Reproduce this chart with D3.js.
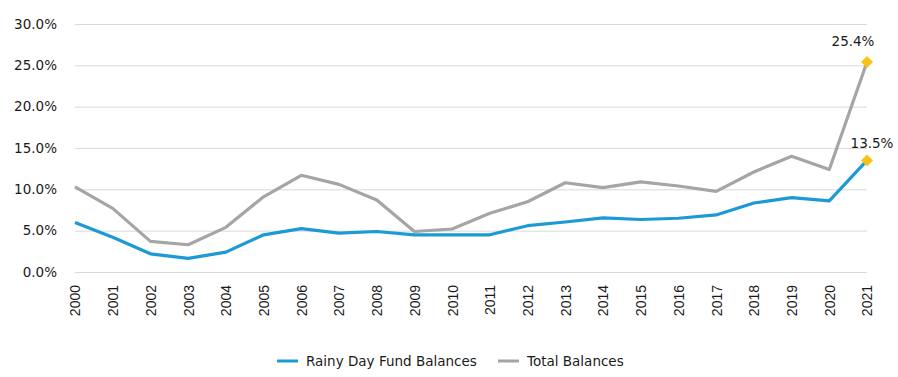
<!DOCTYPE html>
<html>
<head>
<meta charset="utf-8">
<script src="https://cdn.jsdelivr.net/npm/d3@7"></script>
<style>
  body { margin: 0; background: #fff; }
  svg text { fill: #1a1a1a; }
</style>
</head>
<body>
<div id="chart"></div>
<script>
const years = [2000, 2001, 2002, 2003, 2004, 2005, 2006, 2007, 2008, 2009, 2010,
               2011, 2012, 2013, 2014, 2015, 2016, 2017, 2018, 2019, 2020, 2021];
const rainyDay = [6.0, 4.2, 2.2, 1.65, 2.4, 4.5, 5.25, 4.7, 4.9, 4.5, 4.5,
                  4.5, 5.6, 6.05, 6.55, 6.35, 6.5, 6.9, 8.35, 9.0, 8.6, 13.5];
const totalBal = [10.3, 7.7, 3.7, 3.3, 5.4, 9.1, 11.7, 10.6, 8.7, 4.9, 5.2,
                  7.1, 8.5, 10.8, 10.2, 10.9, 10.4, 9.75, 12.1, 14.0, 12.4, 25.4];
const yTicks = [0, 5, 10, 15, 20, 25, 30];
const seriesNames = ["Rainy Day Fund Balances", "Total Balances"];

const width = 898, height = 377;
const margin = { top: 24, right: 31, bottom: 105, left: 75 };
const innerW = width - margin.left - margin.right,
      innerH = height - margin.top - margin.bottom;

const colors = ["#1c9ad6", "#a5a5a5"];
const textFont = "'DejaVu Sans', sans-serif";

const svg = d3.select("#chart").append("svg")
    .attr("width", width)
    .attr("height", height);

const g = svg.append("g")
    .attr("transform", "translate(" + margin.left + "," + margin.top + ")");

const x = d3.scalePoint()
    .domain(years)
    .range([0, innerW]);

const y = d3.scaleLinear()
    .domain([0, 30])
    .range([innerH, 0]);

// gridlines + y labels
const yAxis = g.append("g")
    .call(d3.axisLeft(y).tickValues(yTicks).tickSize(-innerW).tickPadding(18)
        .tickFormat(d => d.toFixed(1) + "%"));
yAxis.select(".domain").remove();
yAxis.selectAll("line").attr("stroke", "#d9d9d9").attr("stroke-width", 1);
yAxis.selectAll("text")
    .style("font-family", textFont)
    .style("font-size", "13.5px")
    .attr("fill", "#1a1a1a");

// x labels
const xAxis = g.append("g")
    .attr("transform", "translate(0," + innerH + ")")
    .call(d3.axisBottom(x).tickSize(0));
xAxis.select(".domain").remove();
xAxis.selectAll("text")
    .attr("transform", "rotate(-90)")
    .attr("x", -13)
    .attr("y", 0)
    .attr("dy", "0.35em")
    .style("text-anchor", "end")
    .style("font-family", "'Liberation Sans', Arial, sans-serif")
    .style("font-size", "14px")
    .attr("fill", "#1a1a1a");

const line = d3.line()
    .x((d, i) => x(years[i]))
    .y(d => y(d));

[rainyDay, totalBal].forEach((s, k) => {
  g.append("path")
      .datum(s)
      .attr("fill", "none")
      .attr("stroke", colors[k])
      .attr("stroke-width", 3.2)
      .attr("stroke-linejoin", "round")
      .attr("d", line);
});

// end markers
const last = years.length - 1;
[[totalBal, -16, -14], [rainyDay, -12, 5]].forEach(([s, dy, dx]) => {
  const px = x(years[last]), py = y(s[last]);
  g.append("path")
      .attr("d", d3.symbol().type(d3.symbolSquare).size(72))
      .attr("transform", "translate(" + px + "," + py + ") rotate(45)")
      .attr("fill", "#f7c316");
  g.append("text")
      .attr("x", px + dx)
      .attr("y", py + dy)
      .attr("text-anchor", "middle")
      .style("font-family", textFont)
      .style("font-size", "13.5px")
      .text(s[last].toFixed(1) + "%");
});

// legend
const legend = svg.append("g").attr("transform", "translate(277,361)");
const legendX = [0, 221];
seriesNames.forEach((name, k) => {
  const lg = legend.append("g").attr("transform", "translate(" + legendX[k] + ",0)");
  lg.append("line")
      .attr("x1", 0).attr("x2", 21)
      .attr("stroke", colors[k]).attr("stroke-width", 3);
  lg.append("text")
      .attr("x", 29).attr("dy", "0.35em")
      .style("font-family", textFont)
      .style("font-size", "13.5px")
      .text(name);
});
</script>
</body>
</html>
